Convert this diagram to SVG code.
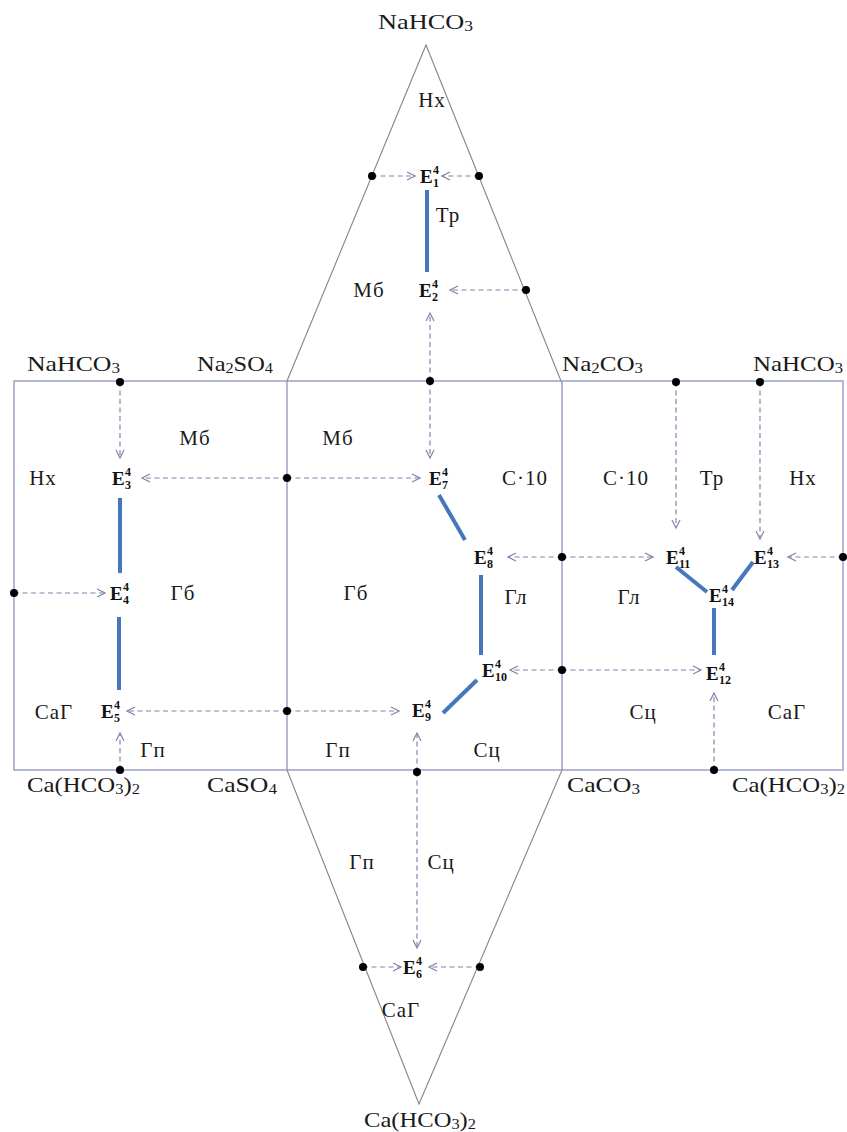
<svg xmlns="http://www.w3.org/2000/svg" width="847" height="1132" viewBox="0 0 847 1132">
<style>
.frame{fill:none;stroke:#8b92c2;stroke-width:1.3}
.tri{fill:none;stroke:#858585;stroke-width:1.1}
.dash{fill:none;stroke:#7f86ad;stroke-width:1.2;stroke-dasharray:5 3.5;marker-end:url(#arr)}
.blue{stroke:#4677bd;stroke-width:4;stroke-linecap:butt}
.dot{fill:#000}
.lbl{font-family:"Liberation Serif","Times New Roman",serif;font-size:21px;fill:#1a1a1a;text-anchor:middle;letter-spacing:1px}
.f{font-family:"Liberation Serif","Times New Roman",serif;font-size:21px;fill:#1a1a1a}
.e{font-family:"Liberation Serif","Times New Roman",serif;fill:#111}
.eb{font-size:19px;font-weight:bold}
.es{font-size:12px;font-weight:bold}
.sub{font-size:14px}
</style>
<defs>
<marker id="arr" viewBox="0 0 10 10" refX="9" refY="5" markerWidth="10" markerHeight="10" markerUnits="userSpaceOnUse" orient="auto">
<path d="M1,1 L9,5 L1,9" fill="none" stroke="#7f86ad" stroke-width="1.2"/>
</marker>
</defs>
<rect width="847" height="1132" fill="#fff"/>
<g id="outline">
<polyline class="tri" points="287,381 426,45 561,381"/>
<rect class="frame" x="14" y="381" width="829" height="389"/>
<line class="frame" x1="287" y1="381" x2="287" y2="770"/>
<line class="frame" x1="562" y1="381" x2="562" y2="770"/>
<polyline class="tri" points="287,770 419,1104 562,770"/>
</g>
<g id="connectors">
<line class="dash" x1="372" y1="176" x2="415" y2="176"/>
<line class="dash" x1="479" y1="176" x2="442" y2="176"/>
<line class="dash" x1="526" y1="290" x2="450" y2="290"/>
<line class="dash" x1="430" y1="381" x2="430" y2="313"/>
<line class="dash" x1="430" y1="381" x2="430" y2="458"/>
<line class="dash" x1="120" y1="382" x2="120" y2="458"/>
<line class="dash" x1="287" y1="478" x2="142" y2="478"/>
<line class="dash" x1="287" y1="478" x2="420" y2="478"/>
<line class="dash" x1="14" y1="593" x2="105" y2="593"/>
<line class="dash" x1="287" y1="711" x2="127" y2="711"/>
<line class="dash" x1="120" y1="770" x2="120" y2="733"/>
<line class="dash" x1="287" y1="711" x2="399" y2="711"/>
<line class="dash" x1="417" y1="772" x2="417" y2="733"/>
<line class="dash" x1="417" y1="772" x2="417" y2="948"/>
<line class="dash" x1="363" y1="967" x2="401" y2="967"/>
<line class="dash" x1="480" y1="967" x2="429" y2="967"/>
<line class="dash" x1="562" y1="557" x2="508" y2="557"/>
<line class="dash" x1="562" y1="557" x2="653" y2="557"/>
<line class="dash" x1="562" y1="670" x2="510" y2="670"/>
<line class="dash" x1="562" y1="670" x2="701" y2="670"/>
<line class="dash" x1="676" y1="382" x2="676" y2="528"/>
<line class="dash" x1="760" y1="382" x2="760" y2="539"/>
<line class="dash" x1="843" y1="557" x2="788" y2="557"/>
<line class="dash" x1="714" y1="770" x2="714" y2="693"/>
<line class="blue" x1="427" y1="190" x2="427" y2="272"/>
<line class="blue" x1="120" y1="498" x2="120" y2="573"/>
<line class="blue" x1="119" y1="617" x2="119" y2="690"/>
<line class="blue" x1="439" y1="495" x2="465" y2="540"/>
<line class="blue" x1="481" y1="575" x2="481" y2="655"/>
<line class="blue" x1="477" y1="680" x2="443" y2="713"/>
<line class="blue" x1="676" y1="567" x2="707" y2="592"/>
<line class="blue" x1="753" y1="562" x2="732" y2="590"/>
<line class="blue" x1="714" y1="608" x2="714" y2="655"/>
</g>
<g id="dots">
<circle class="dot" cx="372" cy="176" r="4"/>
<circle class="dot" cx="479" cy="176" r="4"/>
<circle class="dot" cx="526" cy="290" r="4"/>
<circle class="dot" cx="430" cy="381" r="4"/>
<circle class="dot" cx="120" cy="382" r="4"/>
<circle class="dot" cx="287" cy="478" r="4"/>
<circle class="dot" cx="14" cy="593" r="4"/>
<circle class="dot" cx="287" cy="711" r="4"/>
<circle class="dot" cx="120" cy="770" r="4"/>
<circle class="dot" cx="417" cy="772" r="4"/>
<circle class="dot" cx="363" cy="967" r="4"/>
<circle class="dot" cx="480" cy="967" r="4"/>
<circle class="dot" cx="562" cy="557" r="4"/>
<circle class="dot" cx="562" cy="670" r="4"/>
<circle class="dot" cx="676" cy="382" r="4"/>
<circle class="dot" cx="760" cy="382" r="4"/>
<circle class="dot" cx="843" cy="557" r="4"/>
<circle class="dot" cx="714" cy="770" r="4"/>
</g>
<g id="E1"><text class="e"><tspan class="eb" x="420" y="183">E</tspan><tspan class="es" x="433" y="174">4</tspan><tspan class="es" x="433" y="187">1</tspan></text></g>
<g id="E2"><text class="e"><tspan class="eb" x="419" y="297">E</tspan><tspan class="es" x="432" y="288">4</tspan><tspan class="es" x="432" y="301">2</tspan></text></g>
<g id="E3"><text class="e"><tspan class="eb" x="112" y="485">E</tspan><tspan class="es" x="125" y="476">4</tspan><tspan class="es" x="125" y="489">3</tspan></text></g>
<g id="E4"><text class="e"><tspan class="eb" x="110" y="600">E</tspan><tspan class="es" x="123" y="591">4</tspan><tspan class="es" x="123" y="604">4</tspan></text></g>
<g id="E5"><text class="e"><tspan class="eb" x="101" y="718">E</tspan><tspan class="es" x="114" y="709">4</tspan><tspan class="es" x="114" y="722">5</tspan></text></g>
<g id="E6"><text class="e"><tspan class="eb" x="403" y="974">E</tspan><tspan class="es" x="416" y="965">4</tspan><tspan class="es" x="416" y="978">6</tspan></text></g>
<g id="E7"><text class="e"><tspan class="eb" x="429" y="485">E</tspan><tspan class="es" x="442" y="476">4</tspan><tspan class="es" x="442" y="489">7</tspan></text></g>
<g id="E8"><text class="e"><tspan class="eb" x="474" y="564">E</tspan><tspan class="es" x="487" y="555">4</tspan><tspan class="es" x="487" y="568">8</tspan></text></g>
<g id="E9"><text class="e"><tspan class="eb" x="412" y="717">E</tspan><tspan class="es" x="425" y="708">4</tspan><tspan class="es" x="425" y="721">9</tspan></text></g>
<g id="E10"><text class="e"><tspan class="eb" x="482" y="677">E</tspan><tspan class="es" x="495" y="668">4</tspan><tspan class="es" x="495" y="681">10</tspan></text></g>
<g id="E11"><text class="e"><tspan class="eb" x="666" y="564">E</tspan><tspan class="es" x="679" y="555">4</tspan><tspan class="es" x="679" y="568">11</tspan></text></g>
<g id="E12"><text class="e"><tspan class="eb" x="706" y="680">E</tspan><tspan class="es" x="719" y="671">4</tspan><tspan class="es" x="719" y="684">12</tspan></text></g>
<g id="E13"><text class="e"><tspan class="eb" x="754" y="564">E</tspan><tspan class="es" x="767" y="555">4</tspan><tspan class="es" x="767" y="568">13</tspan></text></g>
<g id="E14"><text class="e"><tspan class="eb" x="709" y="602">E</tspan><tspan class="es" x="722" y="593">4</tspan><tspan class="es" x="722" y="606">14</tspan></text></g>
<g id="formulas">
<text class="f" x="378" y="29" textLength="95" lengthAdjust="spacingAndGlyphs">NaHCO<tspan class="sub" dy="2">3</tspan></text>
<text class="f" x="27" y="371" textLength="93" lengthAdjust="spacingAndGlyphs">NaHCO<tspan class="sub" dy="2">3</tspan></text>
<text class="f" x="197" y="371" textLength="76" lengthAdjust="spacingAndGlyphs">Na<tspan class="sub" dy="2">2</tspan><tspan dy="-2">SO</tspan><tspan class="sub" dy="2">4</tspan></text>
<text class="f" x="562" y="371" textLength="81" lengthAdjust="spacingAndGlyphs">Na<tspan class="sub" dy="2">2</tspan><tspan dy="-2">CO</tspan><tspan class="sub" dy="2">3</tspan></text>
<text class="f" x="753" y="371" textLength="90" lengthAdjust="spacingAndGlyphs">NaHCO<tspan class="sub" dy="2">3</tspan></text>
<text class="f" x="27" y="792" textLength="113" lengthAdjust="spacingAndGlyphs">Ca(HCO<tspan class="sub" dy="2">3</tspan><tspan dy="-2">)</tspan><tspan class="sub" dy="2">2</tspan></text>
<text class="f" x="207" y="792" textLength="70" lengthAdjust="spacingAndGlyphs">CaSO<tspan class="sub" dy="2">4</tspan></text>
<text class="f" x="567" y="792" textLength="73" lengthAdjust="spacingAndGlyphs">CaCO<tspan class="sub" dy="2">3</tspan></text>
<text class="f" x="732" y="792" textLength="113" lengthAdjust="spacingAndGlyphs">Ca(HCO<tspan class="sub" dy="2">3</tspan><tspan dy="-2">)</tspan><tspan class="sub" dy="2">2</tspan></text>
<text class="f" x="364" y="1127" textLength="112" lengthAdjust="spacingAndGlyphs">Ca(HCO<tspan class="sub" dy="2">3</tspan><tspan dy="-2">)</tspan><tspan class="sub" dy="2">2</tspan></text>
</g>
<g id="labels">
<text class="lbl" x="432" y="107">Нх</text>
<text class="lbl" x="448" y="222">Тр</text>
<text class="lbl" x="369" y="297">Мб</text>
<text class="lbl" x="195" y="445">Мб</text>
<text class="lbl" x="43" y="485">Нх</text>
<text class="lbl" x="183" y="600">Гб</text>
<text class="lbl" x="54" y="719">СаГ</text>
<text class="lbl" x="153" y="757">Гп</text>
<text class="lbl" x="338" y="445">Мб</text>
<text class="lbl" x="525" y="485">С·10</text>
<text class="lbl" x="356" y="600">Гб</text>
<text class="lbl" x="516" y="604">Гл</text>
<text class="lbl" x="338" y="757">Гп</text>
<text class="lbl" x="487" y="757">Сц</text>
<text class="lbl" x="626" y="485">С·10</text>
<text class="lbl" x="712" y="485">Тр</text>
<text class="lbl" x="803" y="485">Нх</text>
<text class="lbl" x="629" y="604">Гл</text>
<text class="lbl" x="643" y="719">Сц</text>
<text class="lbl" x="787" y="719">СаГ</text>
<text class="lbl" x="362" y="869">Гп</text>
<text class="lbl" x="441" y="869">Сц</text>
<text class="lbl" x="401" y="1017">СаГ</text>
</g>
</svg>
